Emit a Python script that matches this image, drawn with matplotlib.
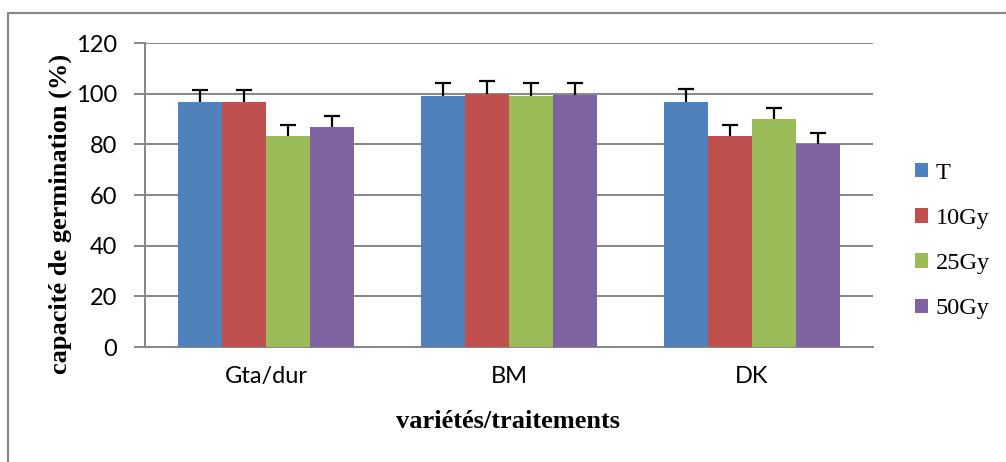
import matplotlib
matplotlib.use("Agg")
import matplotlib.pyplot as plt
from matplotlib.patches import Rectangle
import numpy as np

categories = ["Gta/dur", "BM", "DK"]
series_names = ["T", "10Gy", "25Gy", "50Gy"]
T_vals = [96.7, 99.1, 96.7]
Gy10_vals = [96.7, 100.0, 83.3]
Gy25_vals = [83.3, 98.9, 90.0]
Gy50_vals = [86.7, 99.4, 80.0]
T_err = [4.8, 5.0, 5.0]
Gy10_err = [4.8, 5.0, 4.3]
Gy25_err = [4.3, 5.2, 4.5]
Gy50_err = [4.5, 5.0, 4.3]
y_ticks = [0, 20, 40, 60, 80, 100, 120]

colors = ["#4F81BD", "#C0504D", "#9BBB59", "#8064A2"]
values = [T_vals, Gy10_vals, Gy25_vals, Gy50_vals]
errors = [T_err, Gy10_err, Gy25_err, Gy50_err]

W, H = 1006, 462
fig = plt.figure(figsize=(W / 100, H / 100), dpi=100)
ax = fig.add_axes([145 / W, 1 - 347 / H, (873 - 145) / W, (347 - 43) / H])

grid_c = "#868686"
x = np.arange(len(categories))
bw = 0.181
handles = []
for i, (vals, errs, c, name) in enumerate(zip(values, errors, colors, series_names)):
    pos = x + (i - 1.5) * bw
    b = ax.bar(pos, vals, width=bw, color=c, label=name, zorder=3)
    eb = ax.errorbar(pos, vals, yerr=[np.zeros(len(errs)), errs], fmt="none",
                     ecolor="black", elinewidth=1.6, capsize=6, capthick=1.6, zorder=4)
    caps = eb[1]
    if len(caps) == 2:
        caps[0].set_visible(False)
    handles.append(b)

ax.set_xlim(-0.5, 2.5)
ax.set_ylim(0, 120)
ax.set_yticks(y_ticks)
ax.yaxis.grid(True, color=grid_c, linewidth=1.4, zorder=0)
ax.set_axisbelow(True)
for s in ["top", "right"]:
    ax.spines[s].set_visible(False)
for s in ["left", "bottom"]:
    ax.spines[s].set_color(grid_c)
    ax.spines[s].set_linewidth(1.4)
ax.tick_params(axis="y", direction="out", length=8, width=1.4, color=grid_c,
               labelsize=17, pad=12)
ax.set_xticks(x)
ax.set_xticklabels(categories)
ax.tick_params(axis="x", length=0, labelsize=17, pad=14)
for lab in ax.get_yticklabels() + ax.get_xticklabels():
    lab.set_family("Lato")

ax.set_xlabel("variétés/traitements", family="Liberation Serif", fontweight="bold",
              fontsize=19)
ax.xaxis.label.set_va("center")
ax.xaxis.set_label_coords((508 - 145) / 728, (347 - 422) / 304)
ax.set_ylabel("capacité de germination (%)", family="Liberation Serif",
              fontweight="bold", fontsize=19)
ax.yaxis.label.set_va("center")
ax.yaxis.set_label_coords((60 - 145) / 728, (347 - 213.5) / 304)

leg = fig.legend(handles=handles, labels=series_names, loc="center left",
                 bbox_to_anchor=(893 / W, 1 - 241 / H), frameon=False,
                 prop={"family": "Liberation Serif", "size": 17.5},
                 handlelength=0.55, handleheight=0.55, handletextpad=0.3,
                 labelspacing=1.0)

fig.patches.append(Rectangle((8 / W, -0.1), 1.2, 1 - 13 / H + 0.1, transform=fig.transFigure,
                             fill=False, edgecolor=grid_c, linewidth=1.5))

fig.savefig("out.png", dpi=100)
